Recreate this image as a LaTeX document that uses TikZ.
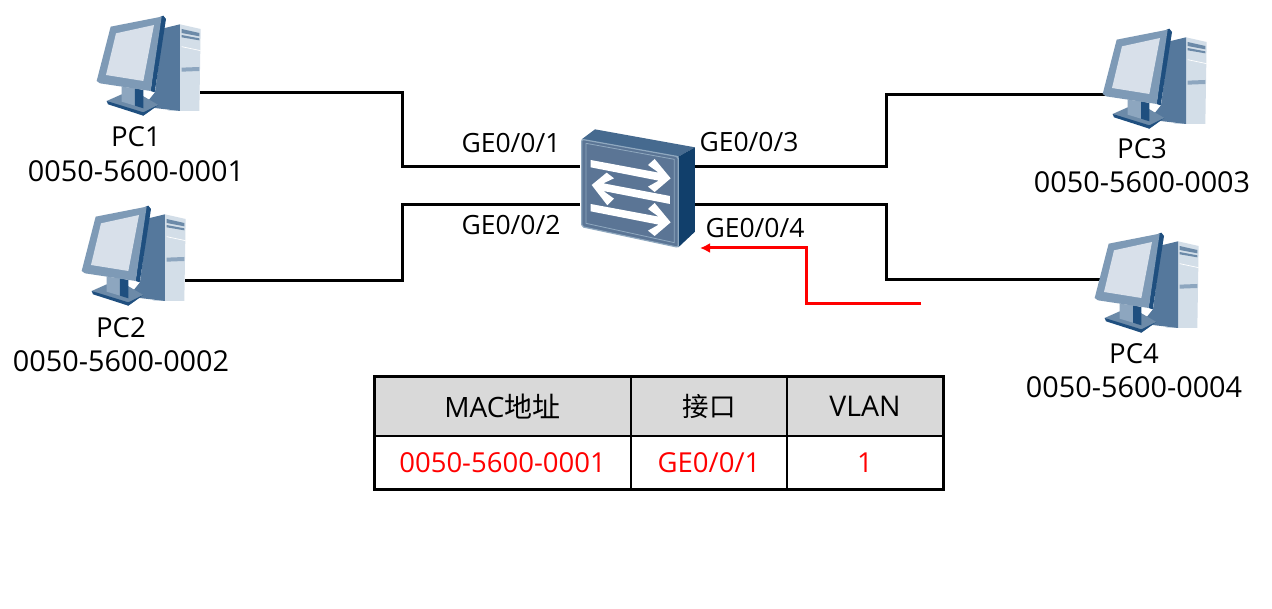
\documentclass[tikz,border=0pt]{standalone}
\usepackage{fontspec}
\setmainfont{Open Sans}
\newfontfamily\cjk{Noto Sans CJK SC}
\usetikzlibrary{arrows.meta}
\definecolor{pcA}{HTML}{7E9AB6}
\definecolor{pcB}{HTML}{1F4F7F}
\definecolor{pcC}{HTML}{D8E0EA}
\definecolor{pcD}{HTML}{55789C}
\definecolor{pcE}{HTML}{D3DEE8}
\definecolor{pcF}{HTML}{8DA6BF}
\definecolor{pcG}{HTML}{6C8AA8}
\definecolor{swF}{HTML}{5B7595}
\definecolor{swT}{HTML}{466A8F}
\definecolor{swS}{HTML}{113F6B}
\definecolor{swE}{HTML}{8FA8BF}
\definecolor{hdr}{HTML}{D9D9D9}
\tikzset{
 lnk/.style={draw=black,line width=3pt},
 lbl/.style={inner sep=0pt,font=\fontsize{26.5}{30}\selectfont},
 pcname/.style={inner sep=0pt,font=\fontsize{27.5}{32}\selectfont},
 pcaddr/.style={inner sep=0pt,font=\fontsize{28.8}{32}\selectfont},
 cellh/.style={draw=black,line width=1.3pt,fill=hdr,minimum height=59pt,inner sep=0pt,outer sep=0pt},
 cellb/.style={draw=black,line width=1.3pt,fill=white,minimum height=53pt,inner sep=0pt,outer sep=0pt},
 anch/.style={inner sep=0pt,minimum size=0pt,outer sep=0pt},
}
\newcommand{\pcicon}[2]{%
\begin{scope}[shift={(#1,#2)},x=0.3333pt,y=-0.3333pt]
 \fill[pcE] (300,58)--(362,72)--(358,318)--(262,318)--(300,300)--cycle;
 \fill[pcD] (250,70)--(300,58)--(300,318)--(190,305)--(225,262)--cycle;
 \fill[pcG] (305,72)--(358,84)--(358,94)--(305,84)--cycle;
 \fill[pcG] (305,90)--(358,100)--(358,106)--(305,97)--cycle;
 \fill[pcF] (305,188)--(358,186)--(358,198)--(305,200)--cycle;
 \draw[white,line width=0.7pt] (305,125)--(362,137);
 \fill[pcG] (80,288)--(125,268)--(170,262)--(235,300)--(190,332)--cycle;
 \fill[pcB] (80,288)--(190,322)--(235,300)--(190,332)--(84,298)--cycle;
 \fill[pcF] (125,245)--(165,250)--(165,302)--(125,290)--cycle;
 \fill[pcB] (165,250)--(190,255)--(190,310)--(165,302)--cycle;
 \fill[pcB] (240,36)--(250,32)--(258,42)--(224,262)--(212,258)--cycle;
 \fill[pcA] (92,65)--(245,35)--(212,258)--(60,235)--(50,228)--cycle;
 \fill[pcC] (108,85)--(222,60)--(190,228)--(78,210)--cycle;
\end{scope}}
\begin{document}
\begin{tikzpicture}[x=1pt,y=-1pt]
\useasboundingbox (0,0) rectangle (1272,609);
\fill[white] (0,0) rectangle (1272,609);
% wires first, devices above
\node[anch] (pcA) at (200,93) {};
\node[anch] (pcB) at (185,281) {};
\node[anch] (pcC) at (1105,95) {};
\node[anch] (pcD) at (1100,280) {};
\node[anch] (swa) at (580,167) {};
\node[anch] (swb) at (580,205) {};
\node[anch] (swc) at (695,167) {};
\node[anch] (swd) at (695,205) {};
\node[anch] (swr) at (700,248) {};
\node[anch] (rs) at (921,304) {};
\draw[lnk] (pcA.center) -- (402,93) -- (402,167) -- (swa.center);
\draw[lnk] (pcB.center) -- (402,281) -- (402,205) -- (swb.center);
\draw[lnk] (swc.center) -- (886,167) -- (886,95) -- (pcC.center);
\draw[lnk] (swd.center) -- (886,205) -- (886,280) -- (pcD.center);
\draw[red,line width=3pt,-{Latex[length=10pt,width=10pt]}] (rs.center) -- (806,304) -- (806,248) -- (swr.center);
% switch
\begin{scope}[shift={(560,110)},x=0.3333pt,y=-0.3333pt]
 \fill[swT] (65,88)--(105,58)--(405,112)--(355,140)--cycle;
 \fill[swS] (355,140)--(405,112)--(405,365)--(355,412)--cycle;
 \filldraw[fill=swF,draw=swE,line width=1.2pt,rounded corners=2pt] (65,88)--(355,140)--(355,412)--(65,350)--cycle;
 \draw[swE,line width=0.8pt] (78,100)--(343,148)--(343,398)--(78,340)--cycle;
 \foreach \dy in {0,132}{
  \fill[white] (92,150+\dy)--(296,188+\dy)--(264,165+\dy)--(284,147+\dy)--(332,205+\dy)--(284,246+\dy)--(264,230+\dy)--(296,212+\dy)--(92,172+\dy)--cycle;
 }
 \fill[white] (330,258)--(330,282)--(130,243)--(162,266)--(142,286)--(95,225)--(140,188)--(162,205)--(130,220)--cycle;
\end{scope}
\pcicon{80}{5}
\pcicon{65}{195}
\pcicon{1086}{18}
\pcicon{1078}{222}
% labels
\node[pcname] (n1) at (136,137) {PC1};
\node[pcaddr] (t1) at (136,171) {0050-5600-0001};
\node[pcname] (n2) at (121,328) {PC2};
\node[pcaddr] (t2) at (121,361) {0050-5600-0002};
\node[pcname] (n3) at (1142,149) {PC3};
\node[pcaddr] (t3) at (1142,182) {0050-5600-0003};
\node[pcname] (n4) at (1134,354) {PC4};
\node[pcaddr] (t4) at (1134,387) {0050-5600-0004};
\node[lbl] (p1) at (511,143) {GE0/0/1};
\node[lbl] (p2) at (511,225) {GE0/0/2};
\node[lbl] (p3) at (749,142) {GE0/0/3};
\node[lbl] (p4) at (755,228) {GE0/0/4};
% table
\node[cellh,minimum width=257pt] (h1) at (502.5,406.5) {\fontsize{28}{32}\selectfont MAC{\cjk 地址}};
\node[cellh,minimum width=156pt] (h2) at (709,406.5) {\raisebox{-4pt}{\fontsize{26.5}{30}\selectfont{\cjk 接口}}};
\node[cellh,minimum width=156pt] (h3) at (865,406.5) {\fontsize{28.5}{32}\selectfont VLAN};
\node[cellb,minimum width=257pt,text=red] (b1) at (502.5,462.5) {\fontsize{27.5}{31}\selectfont 0050-5600-0001};
\node[cellb,minimum width=156pt,text=red] (b2) at (709,462.5) {\fontsize{27.5}{31}\selectfont GE0/0/1};
\node[cellb,minimum width=156pt,text=red] (b3) at (865,462.5) {\fontsize{27.5}{31}\selectfont 1};
\draw[line width=3pt,line cap=round] (h1.north west) -- (h3.north east) -- (b3.south east) -- (b1.south west) -- cycle;
\end{tikzpicture}
\end{document}
